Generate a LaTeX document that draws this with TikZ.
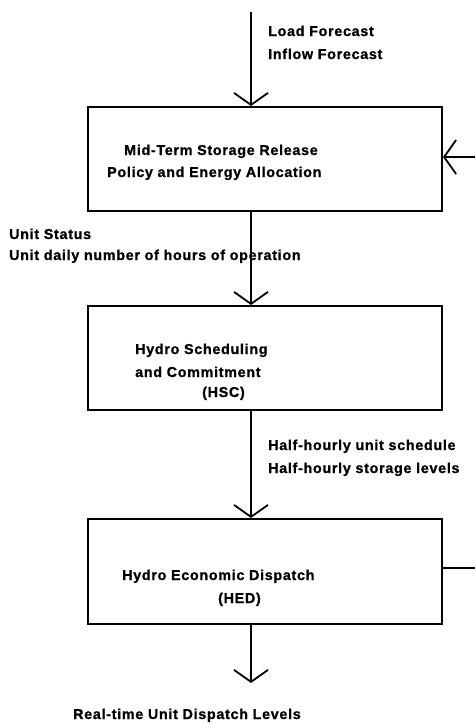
\documentclass[tikz,border=0pt]{standalone}
\usepackage{fontspec}
\setmainfont{Liberation Sans}[LetterSpace=5,FakeBold=1]
\usetikzlibrary{arrows.meta}
\begin{document}
\begin{tikzpicture}[x=1pt,y=1pt,
  box/.style={draw,line width=2pt,minimum width=354pt,minimum height=104pt,inner sep=0pt},
  lbl/.style={anchor=base west,inner sep=0pt,font=\bfseries\fontsize{14.3}{16}\selectfont},
  conn/.style={line width=1.8pt},
  arr/.style={conn,-{Straight Barb[length=12pt,width=34pt,line width=1.8pt]}}]
\useasboundingbox (0,0) rectangle (475,-724);
% boxes
\node[box] (b1) at (265,-159) {};
\node[box] (b2) at (265,-358) {};
\node[box,minimum height=105pt] (b3) at (265,-571.5) {};
% free ends
\coordinate (top) at (251,-12);
\coordinate (rin) at (475,-157);
\coordinate (rout) at (475,-568);
\coordinate (bot) at (251,-683);
% connectors
\draw[arr] (top) -- (top |- b1.north);
\draw[arr] (rin) -- (rin -| b1.east);
\draw[arr] (b1.south -| top) -- (b2.north -| top);
\draw[arr] (b2.south -| top) -- (b3.north -| top);
\draw[conn] (rout -| b3.east) -- (rout);
\draw[arr] (b3.south -| top) -- (bot);
% labels
\node[lbl] (t1) at (268,-36) {Load Forecast};
\node[lbl] (t2) at (268,-59) {Inflow Forecast};
\node[lbl] (t3) at (124,-155) {Mid-Term Storage Release};
\node[lbl] (t4) at (107,-177) {Policy and Energy Allocation};
\node[lbl] (t5) at (9,-239) {Unit Status};
\node[lbl] (t6) at (9,-260) {Unit daily number of hours of operation};
\node[lbl] (t7) at (135,-354) {Hydro Scheduling};
\node[lbl] (t8) at (135,-377) {and Commitment};
\node[lbl] (t9) at (202,-397) {(HSC)};
\node[lbl] (t10) at (268,-450) {Half-hourly unit schedule};
\node[lbl] (t11) at (268,-473) {Half-hourly storage levels};
\node[lbl] (t12) at (122,-580) {Hydro Economic Dispatch};
\node[lbl] (t13) at (218,-603) {(HED)};
\node[lbl] (t14) at (73,-719) {Real-time Unit Dispatch Levels};
\end{tikzpicture}
\end{document}
